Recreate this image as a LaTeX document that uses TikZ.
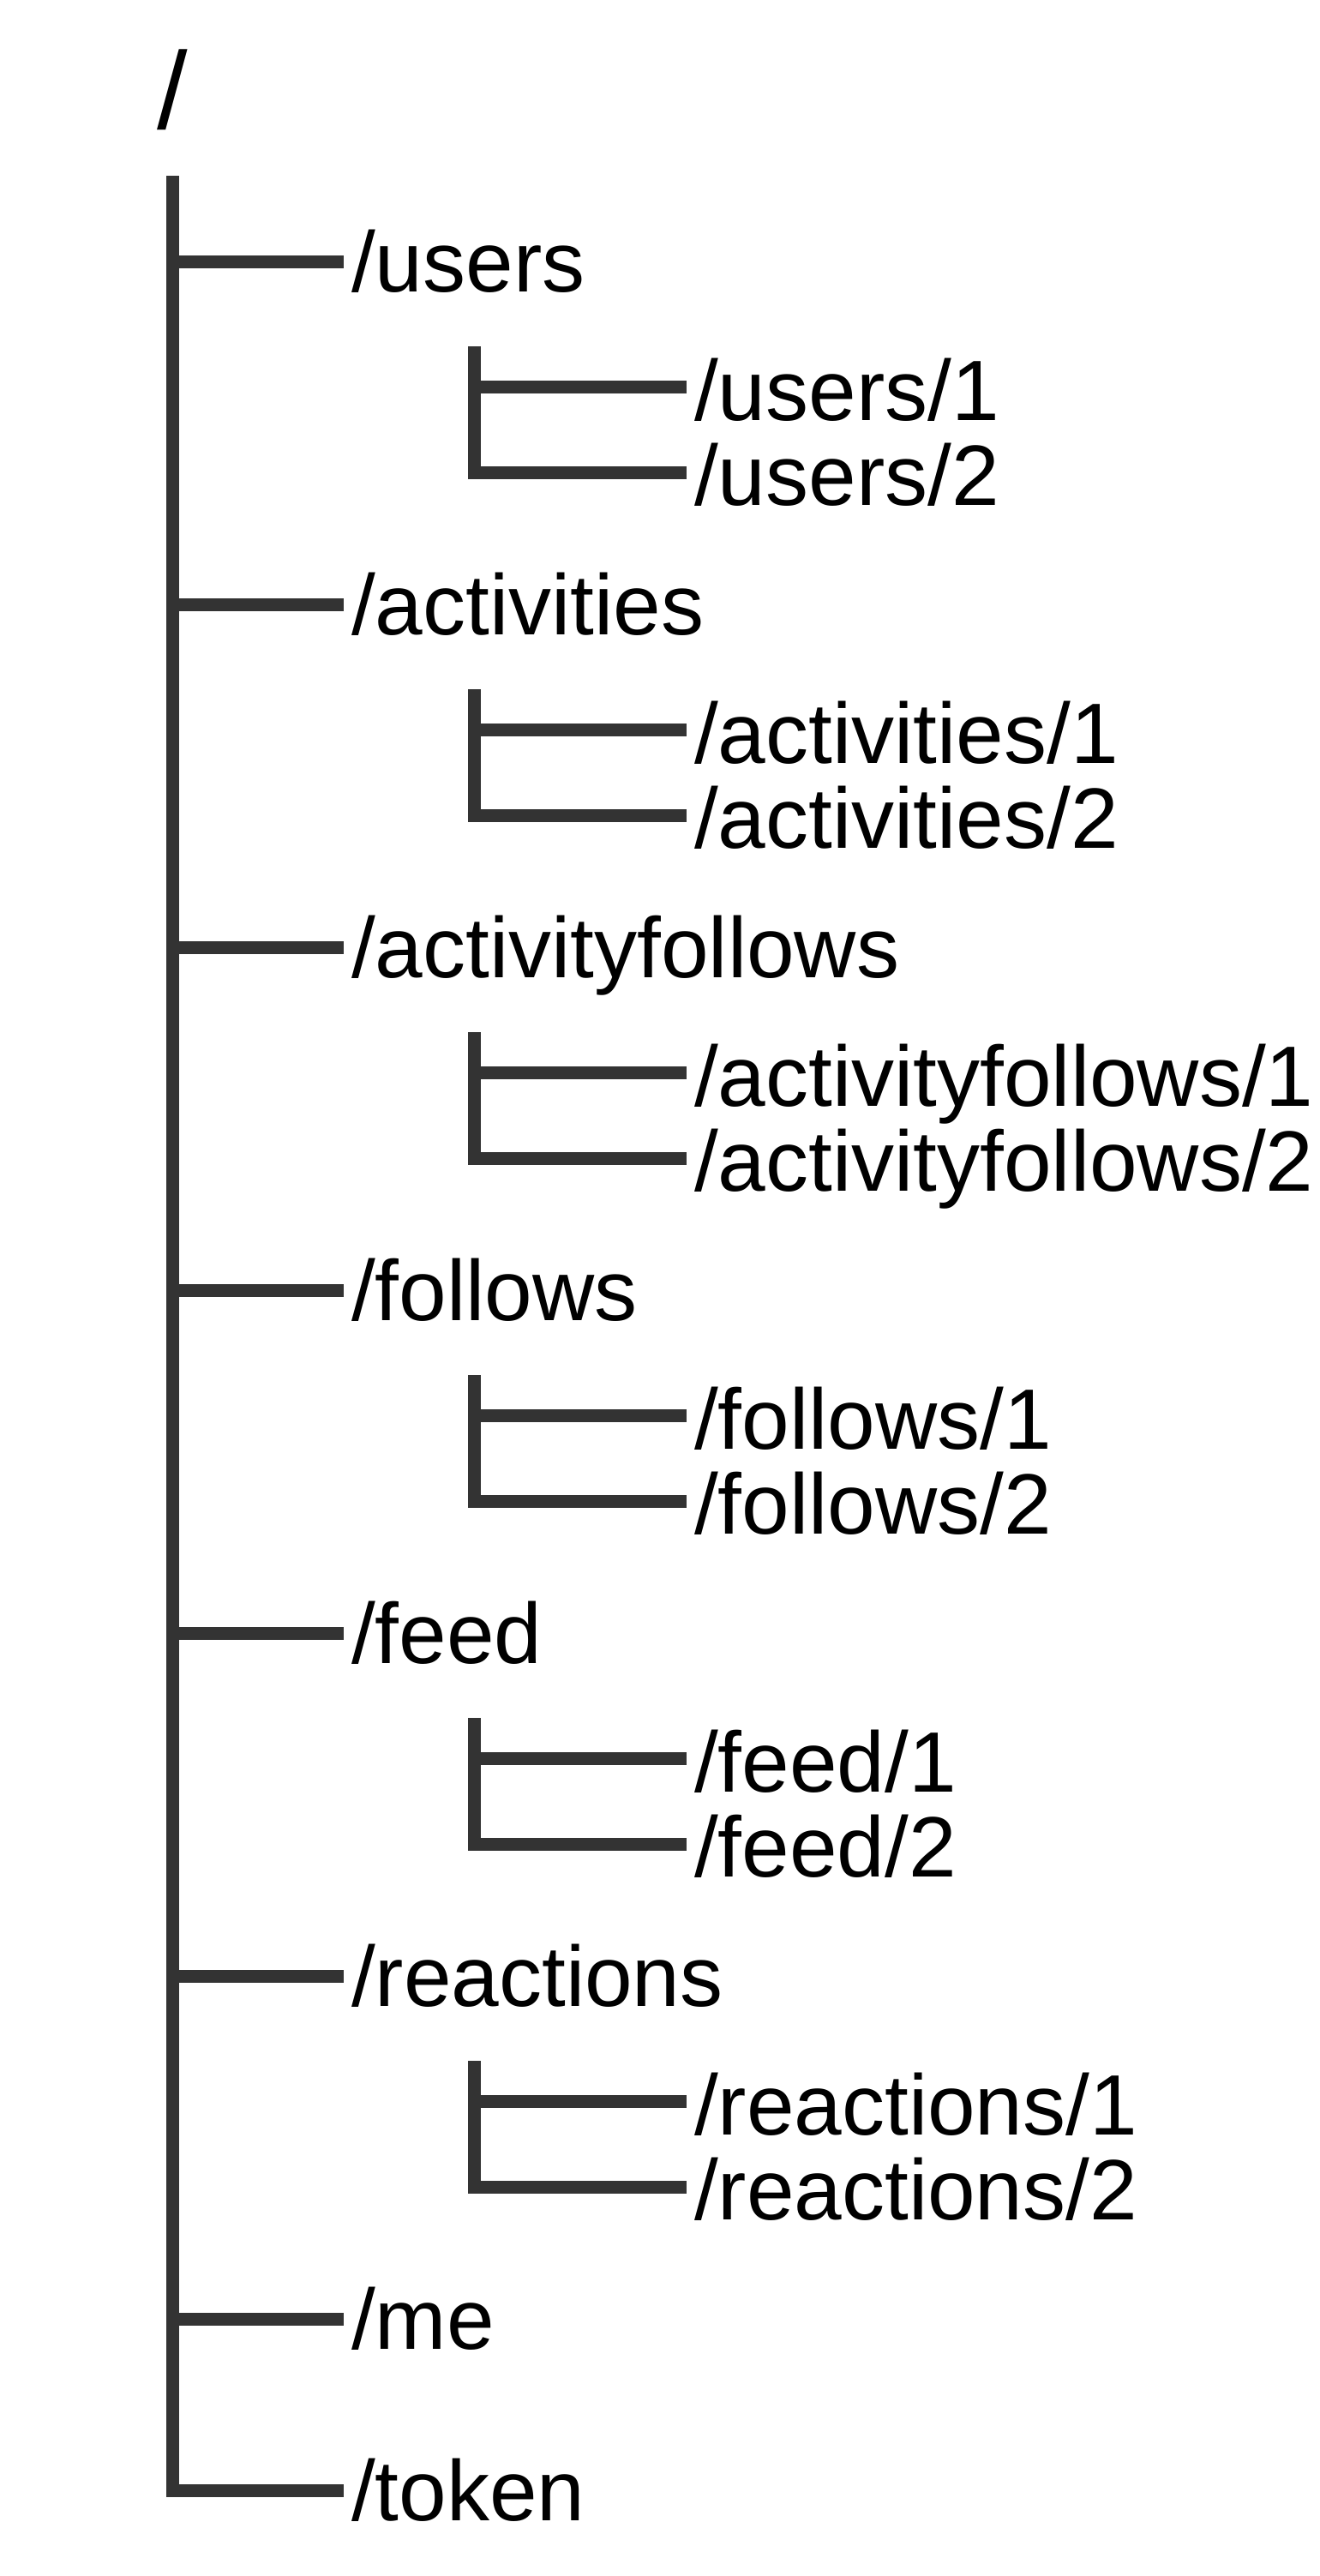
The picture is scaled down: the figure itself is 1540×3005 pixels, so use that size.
\documentclass[tikz,border=0pt]{standalone}
\usepackage{fontspec}
\setmainfont{Liberation Sans}
\definecolor{treeline}{HTML}{333333}
\begin{document}
\begin{tikzpicture}[x=0.5pt,y=-0.5pt,
  branch/.style={draw=treeline,line width=7.5pt,line cap=butt,line join=miter},
  lbl/.style={anchor=base west,inner sep=0pt,outer sep=0pt,font=\fontsize{50pt}{60pt}\selectfont,text=black},
  rootlbl/.style={anchor=base west,inner sep=0pt,outer sep=0pt,font=\fontsize{64pt}{77pt}\selectfont,text=black}]
\useasboundingbox (0,0) rectangle (1540,3005);
% root
\node[rootlbl] (root) at (183,150) {/};
\coordinate (trunktop) at (201,205);
% groups with children
\foreach \nm [count=\i from 0] in {users,activities,activityfollows,follows,feed,reactions} {
  \pgfmathsetmacro{\yy}{305+400*\i}
  \node[lbl] (\nm) at (410,\yy+35) {/\nm};
  \coordinate (\nm-j) at (201,\yy);
  \draw[branch,shorten >=4.5pt] (\nm-j) -- (\nm-j -| \nm.west);
  \node[lbl] (\nm-1) at (810,\yy+185) {/\nm/1};
  \node[lbl] (\nm-2) at (810,\yy+284) {/\nm/2};
  \coordinate (\nm-st) at (553,\yy+99);
  \coordinate (\nm-a) at (553,\yy+146);
  \coordinate (\nm-b) at (553,\yy+246);
  \draw[branch,shorten >=4.5pt] (\nm-st) -- (\nm-b) -- (\nm-b -| \nm-2.west);
  \draw[branch,shorten >=4.5pt] (\nm-a) -- (\nm-a -| \nm-1.west);
}
% leaf groups
\node[lbl] (me) at (410,2740) {/me};
\coordinate (me-j) at (201,2705);
\draw[branch,shorten >=4.5pt] (me-j) -- (me-j -| me.west);
\node[lbl] (token) at (410,2940) {/token};
\coordinate (token-j) at (201,2905);
% trunk
\draw[branch,shorten >=4.5pt] (trunktop) -- (token-j) -- (token-j -| token.west);
\end{tikzpicture}
\end{document}
